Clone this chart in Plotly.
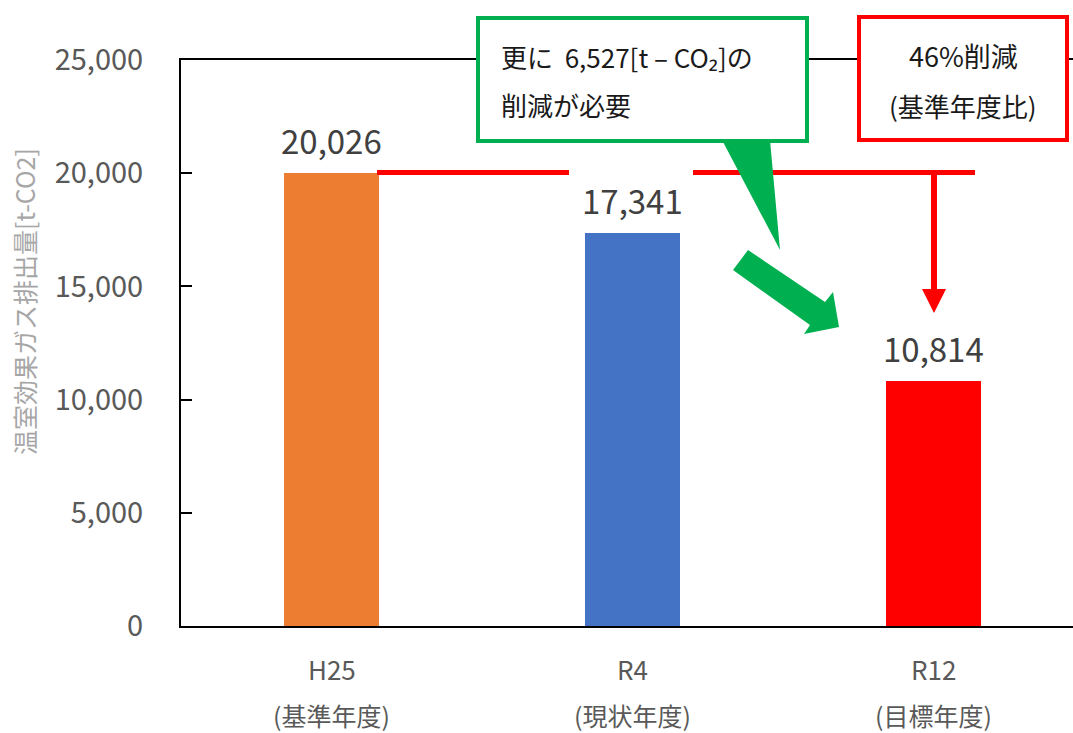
import plotly.graph_objects as go

# ---- data ----
categories = ["H25", "R4", "R12"]
category_sub = ["(基準年度)", "(現状年度)", "(目標年度)"]
values = [20026, 17341, 10814]
bar_colors = ["#ED7D31", "#4472C4", "#FF0000"]
y_ticks = [0, 5000, 10000, 15000, 20000, 25000]
y_title = "温室効果ガス排出量[t-CO2]"
callout_green = ["更に\u00a0 6,527[t – CO₂]の", "削減が必要"]
callout_red = ["46%削減", "(基準年度比)"]

W, H = 1073, 733
L, R, T, B = 181, 0, 60, 107
PW, PH = W - L - R, H - T - B
SPACING = 301  # px per category


def px(x):
    return (x - L) / PW


def py(y):
    return (H - B - y) / PH


FONT = "Noto Sans CJK JP, Noto Sans, sans-serif"

fig = go.Figure()
fig.add_trace(go.Bar(
    x=categories, y=values, marker_color=bar_colors, width=0.316,
    marker_line_width=0, hoverinfo="skip",
))

annotations = []
# value labels
for c, v in zip(categories, values):
    annotations.append(dict(x=c, y=v, xref="x", yref="y", text=f"{v:,}",
                            showarrow=False, yanchor="bottom", yshift=7,
                            font=dict(size=33, color="#404040", family=FONT)))
# category labels (two lines)
for c, s in zip(categories, category_sub):
    annotations.append(dict(x=c, y=py(668), xref="x", yref="paper", text=c,
                            showarrow=False, yanchor="middle",
                            font=dict(size=26, color="#595959", family=FONT)))
    annotations.append(dict(x=c, y=py(715), xref="x", yref="paper", text=s,
                            showarrow=False, yanchor="middle",
                            font=dict(size=25, color="#595959", family=FONT)))

shapes = []
# red reference line at base year level (broken)
for x0, x1 in [(377, 569), (693, 975)]:
    shapes.append(dict(type="line", xref="paper", yref="y", x0=px(x0), x1=px(x1),
                       y0=values[0], y1=values[0], line=dict(color="#FF0000", width=5)))
# red down arrow
shapes.append(dict(type="line", xref="paper", yref="paper", x0=px(934), x1=px(934),
                   y0=py(173), y1=py(290), line=dict(color="#FF0000", width=6)))
shapes.append(dict(type="path", xref="paper", yref="paper",
                   path=f"M {px(922)} {py(289)} L {px(946)} {py(289)} L {px(934)} {py(313)} Z",
                   fillcolor="#FF0000", line=dict(width=0)))
# green callout tail
shapes.append(dict(type="path", xref="paper", yref="paper",
                   path=f"M {px(722)} {py(140)} L {px(770)} {py(140)} L {px(780)} {py(250)} Z",
                   fillcolor="#00B050", line=dict(width=0), layer="above"))
# green callout box
shapes.append(dict(type="rect", xref="paper", yref="paper",
                   x0=px(478), x1=px(807), y0=py(18), y1=py(141),
                   fillcolor="white", line=dict(color="#00B050", width=4), layer="above"))
# red box
shapes.append(dict(type="rect", xref="paper", yref="paper",
                   x0=px(859), x1=px(1067), y0=py(17), y1=py(140),
                   fillcolor="white", line=dict(color="#FF0000", width=4), layer="above"))
# green block arrow
pts = [(748, 250), (825, 302), (833, 292), (839, 327), (804, 334), (810, 325), (733, 270)]
path = "M " + " L ".join(f"{px(a)} {py(b)}" for a, b in pts) + " Z"
shapes.append(dict(type="path", xref="paper", yref="paper", path=path,
                   fillcolor="#00B050", line=dict(width=0), layer="above"))

# callout texts
annotations.append(dict(x=px(499), y=py(57), xref="paper", yref="paper", text=callout_green[0],
                        showarrow=False, xanchor="left", yanchor="middle",
                        font=dict(size=26, color="#1a1a1a", family=FONT)))
annotations.append(dict(x=px(499), y=py(104), xref="paper", yref="paper", text=callout_green[1],
                        showarrow=False, xanchor="left", yanchor="middle",
                        font=dict(size=26, color="#1a1a1a", family=FONT)))
annotations.append(dict(x=px(963), y=py(56), xref="paper", yref="paper", text=callout_red[0],
                        showarrow=False, xanchor="center", yanchor="middle",
                        font=dict(size=27, color="#1a1a1a", family=FONT)))
annotations.append(dict(x=px(963), y=py(105), xref="paper", yref="paper", text=callout_red[1],
                        showarrow=False, xanchor="center", yanchor="middle",
                        font=dict(size=26, color="#1a1a1a", family=FONT)))
# y axis title
annotations.append(dict(x=px(24), y=py(302), xref="paper", yref="paper", text=y_title,
                        showarrow=False, textangle=-90, xanchor="center", yanchor="middle",
                        font=dict(size=25, color="#a6a6a6", family=FONT)))

fig.update_layout(
    width=W, height=H,
    margin=dict(l=L, r=R, t=T, b=B, autoexpand=False),
    plot_bgcolor="white", paper_bgcolor="white",
    showlegend=False, bargap=0,
    font=dict(family=FONT),
    shapes=shapes, annotations=annotations,
    xaxis=dict(type="category", range=[-0.5, -0.5 + PW / SPACING],
               showticklabels=False, ticks="", showgrid=False,
               showline=True, linecolor="black", linewidth=2, mirror=True,
               zeroline=False, fixedrange=True),
    yaxis=dict(range=[0, 25000], tickvals=y_ticks, tickformat=",",
               ticks="inside", ticklen=11, tickcolor="black", tickwidth=1.5,
               ticklabelstandoff=30,
               tickfont=dict(size=29, color="#595959", family=FONT),
               showgrid=False, showline=True, linecolor="black", linewidth=2,
               zeroline=False, fixedrange=True),
)

fig.write_html("out.html")
